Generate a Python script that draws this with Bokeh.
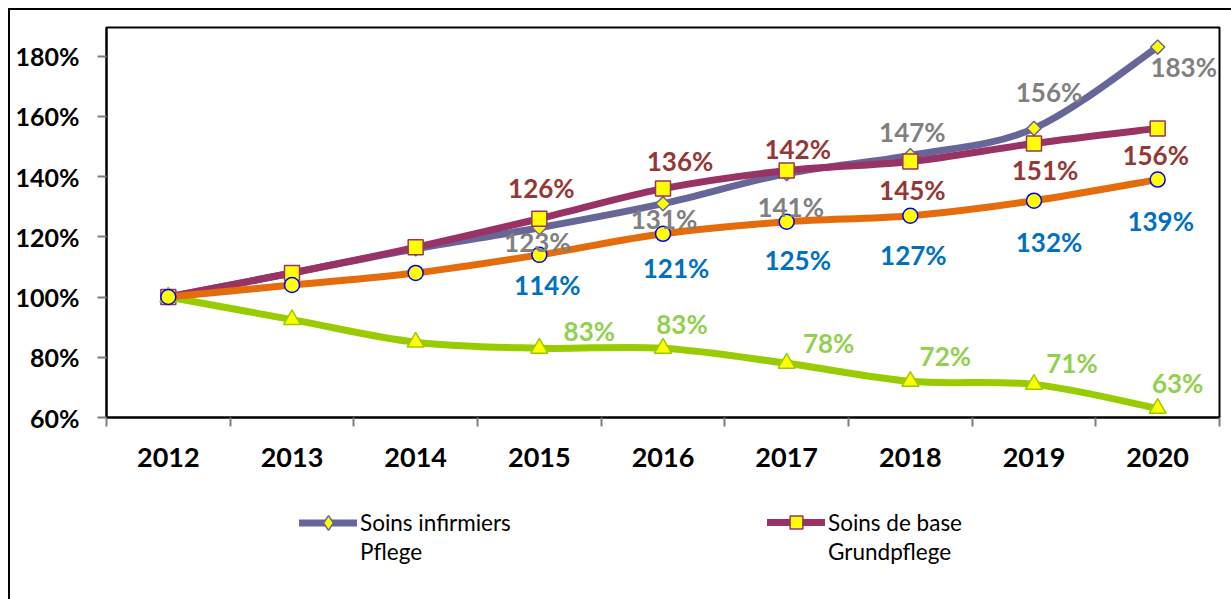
from bokeh.plotting import figure
from bokeh.layouts import column
from bokeh.models import ColumnDataSource, FixedTicker, Legend, LegendItem, Range1d
from bokeh.core.properties import value
from bokeh.embed import file_html
from bokeh.resources import INLINE
import math

# ---------------- data ----------------
years = ["2012", "2013", "2014", "2015", "2016", "2017", "2018", "2019", "2020"]
soins_infirmiers = [100, 108, 116, 123, 131, 141, 147, 156, 183]   # Pflege
soins_de_base = [100, 108, 116.5, 126, 136, 142, 145, 151, 156]     # Grundpflege
serie_orange = [100, 104, 108, 114, 121, 125, 127, 132, 139]
serie_verte = [100, 92.5, 85, 83, 83, 78, 72, 71, 63]
y_ticks = [60, 80, 100, 120, 140, 160, 180]
legend_fr = ["Soins infirmiers", "Soins de base"]
legend_de = ["Pflege", "Grundpflege"]
first_label = 3  # data labels shown from 2015 on

# label placement (screen px offsets from each labelled point; +dy = down)
inf_dx = [-2, 1, 4, 2, 15, 26]
inf_dy = [14, 15, 33, -23, -36, 20]
base_dx = [2, 17, 11, 2, 11, -2]
base_dy = [-31, -28, -22, 28, 27, 27]
orange_dx = [8, 13, 11, 3, 15, 3]
orange_dy = [30, 34, 38, 39, 41, 41]
vert_dx = [50, 19, 42, 35, 38, 20]
vert_dy = [-17, -24, -20, -25, -21, -25]

FONT = "Lato"
C_INF, C_BASE, C_OR, C_VE = "#666699", "#993366", "#e46c0a", "#99cc00"

p = figure(width=1221, height=480, output_backend="svg", toolbar_location=None,
           x_range=Range1d(-0.5, 8.5), y_range=Range1d(60, 189.5),
           min_border_left=96, min_border_top=17, min_border_right=12, min_border_bottom=73)
p.xgrid.visible = False
p.ygrid.visible = False
p.outline_line_color = "black"
p.outline_line_width = 2
p.background_fill_color = "white"
p.border_fill_color = "white"

# x axis: labels at category centres, tick marks at band boundaries
xs = list(range(len(years)))
p.xaxis.ticker = FixedTicker(ticks=xs, minor_ticks=[i - 0.5 for i in range(len(years) + 1)])
p.xaxis.major_label_overrides = {i: years[i] for i in xs}
p.xaxis.major_tick_line_color = None
p.xaxis.major_tick_out = 0
p.xaxis.major_tick_in = 0
p.xaxis.minor_tick_out = 9
p.xaxis.minor_tick_in = 0
p.xaxis.minor_tick_line_color = "#7f7f7f"
p.xaxis.minor_tick_line_width = 2
p.xaxis.major_label_standoff = 21
p.xaxis.major_label_text_font = FONT
p.xaxis.major_label_text_font_style = "bold"
p.xaxis.major_label_text_font_size = "27px"
p.xaxis.major_label_text_color = "black"
p.xaxis.axis_line_color = "black"
p.xaxis.axis_line_width = 2

p.yaxis.ticker = FixedTicker(ticks=y_ticks, minor_ticks=[])
p.yaxis.major_label_overrides = {t: f"{t}%" for t in y_ticks}
p.yaxis.major_tick_out = 9
p.yaxis.major_tick_in = 0
p.yaxis.major_tick_line_color = "#7f7f7f"
p.yaxis.major_tick_line_width = 2
p.yaxis.major_label_standoff = 18
p.yaxis.major_label_text_font = FONT
p.yaxis.major_label_text_font_style = "bold"
p.yaxis.major_label_text_font_size = "25px"
p.yaxis.major_label_text_color = "black"
p.yaxis.axis_line_color = "black"
p.yaxis.axis_line_width = 2


def smooth(xv, yv):
    n = len(xv)
    d = dict(x0=[], y0=[], x1=[], y1=[], cx0=[], cy0=[], cx1=[], cy1=[])
    for i in range(n - 1):
        a = max(i - 1, 0)
        b = min(i + 2, n - 1)
        d["x0"].append(xv[i]); d["y0"].append(yv[i])
        d["x1"].append(xv[i + 1]); d["y1"].append(yv[i + 1])
        d["cx0"].append(xv[i] + (xv[i + 1] - xv[a]) / 6)
        d["cy0"].append(yv[i] + (yv[i + 1] - yv[a]) / 6)
        d["cx1"].append(xv[i + 1] - (xv[b] - xv[i]) / 6)
        d["cy1"].append(yv[i + 1] - (yv[b] - yv[i]) / 6)
    return ColumnDataSource(d)


def series(vals, color, marker, msize, mline, angle=0.0):
    p.bezier(x0="x0", y0="y0", x1="x1", y1="y1", cx0="cx0", cy0="cy0", cx1="cx1", cy1="cy1",
             source=smooth(xs, vals), line_color=color, line_width=7, line_cap="round")
    p.scatter(xs, vals, marker=marker, size=msize, fill_color="#ffff00",
              line_color=mline, line_width=1.5, angle=angle)


def labels(vals, color, dx, dy):
    src = ColumnDataSource(dict(x=xs[first_label:], y=vals[first_label:],
                                t=[f"{round(v)}%" for v in vals[first_label:]],
                                dx=dx, dy=dy))
    p.text(x="x", y="y", text="t", source=src, x_offset="dx", y_offset="dy",
           text_align="center", text_baseline="middle", text_color=color,
           text_font=value(FONT), text_font_style="bold", text_font_size="26px")


series(soins_infirmiers, C_INF, "square", 10, C_INF, math.pi / 4)
series(soins_de_base, C_BASE, "square", 15, C_BASE)
series(serie_verte, C_VE, "triangle", 17, C_VE)
series(serie_orange, C_OR, "circle", 15, "#0000ff")

labels(soins_infirmiers, "#808080", inf_dx, inf_dy)
labels(soins_de_base, "#953735", base_dx, base_dy)
labels(serie_orange, "#0070c0", orange_dx, orange_dy)
labels(serie_verte, "#92d050", vert_dx, vert_dy)

# ---------------- legend strip (series drawn out of view, only legends show) ----------------
pl = figure(width=1221, height=109, output_backend="svg", toolbar_location=None,
            x_range=Range1d(1000, 1001), y_range=Range1d(1000, 1001),
            min_border=0, outline_line_color=None)
pl.axis.visible = False
pl.grid.visible = False
l1 = pl.line(xs, soins_infirmiers, line_color=C_INF, line_width=7, line_cap="round")
m1 = pl.scatter(xs, soins_infirmiers, marker="diamond",
                fill_color="#ffff00", line_color=C_INF, line_width=1.5)
l2 = pl.line(xs, soins_de_base, line_color=C_BASE, line_width=7, line_cap="round")
m2 = pl.scatter(xs, soins_de_base, marker="square",
                fill_color="#ffff00", line_color=C_BASE, line_width=1.5)
blank = pl.line(xs, soins_infirmiers, line_alpha=0)


def add_legend(label, renderers, loc, gh):
    lg = Legend(items=[LegendItem(label=label, renderers=renderers)],
                location=loc, glyph_width=58, glyph_height=gh,
                label_standoff=3, padding=0, margin=0, border_line_color=None,
                background_fill_alpha=0, label_text_font=FONT, label_text_font_size="22.5px",
                label_text_color="black", label_text_baseline="middle")
    pl.add_layout(lg, "center")


add_legend(legend_fr[0], [l1, m1], (193, 58), 37)
add_legend(legend_de[0], [blank], (193, 34), 28)
add_legend(legend_fr[1], [l2, m2], (661, 61), 32)
add_legend(legend_de[1], [blank], (661, 34), 28)

layout = column(p, pl, spacing=0,
                styles={"margin": "8px 0 0 8px", "border-left": "2px solid black",
                        "border-top": "2px solid black"})

open("out.html", "w").write(file_html(layout, INLINE))
